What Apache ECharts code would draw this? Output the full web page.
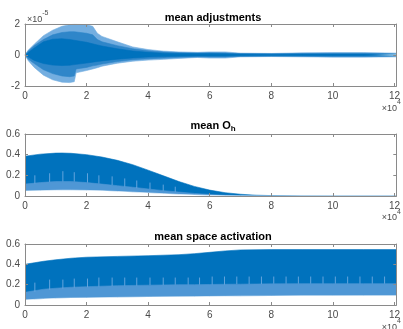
<!DOCTYPE html>
<html>
<head>
<meta charset="utf-8">
<script src="https://cdn.jsdelivr.net/npm/echarts@6/dist/echarts.min.js"></script>
<style>
html,body{margin:0;padding:0;background:#fff;}
#c{width:403px;height:329px;}
</style>
</head>
<body>
<div id="c"></div>
<script>
// ---- Data ----
// Panel 1: mean adjustments (values in units of 1e-5)
var adjX      = [0, 1000, 3000, 6000, 9000, 12000, 14500, 16000, 16600, 20000, 22000, 23500, 25000, 30000, 35000, 40000, 45000, 50000, 56000, 60000, 65000, 70000, 80000, 90000, 100000, 110000, 120600];
var adjOuterHi= [0, 0.3, 0.7, 1.25, 1.6, 1.85, 1.95, 2.0, 2.0, 1.95, 1.85, 1.4, 1.2, 0.85, 0.52, 0.35, 0.25, 0.2, 0.17, 0.2, 0.2, 0.12, 0.1, 0.14, 0.16, 0.16, 0.12];
var adjOuterLo= [0, -0.35, -0.8, -1.3, -1.6, -1.75, -1.78, -1.72, -1.15, -1.0, -0.9, -0.82, -0.72, -0.53, -0.4, -0.33, -0.28, -0.22, -0.16, -0.2, -0.2, -0.12, -0.1, -0.12, -0.14, -0.14, -0.12];
var adjMidHi  = [0, 0.25, 0.6, 1.0, 1.3, 1.45, 1.5, 1.5, 1.48, 1.4, 1.3, 1.0, 0.85, 0.6, 0.4, 0.27, 0.2, 0.15, 0.13, 0.14, 0.13, 0.09, 0.08, 0.09, 0.1, 0.1, 0.08];
var adjMidLo  = [0, -0.25, -0.55, -0.95, -1.2, -1.35, -1.4, -1.35, -0.9, -0.8, -0.7, -0.65, -0.58, -0.42, -0.3, -0.24, -0.2, -0.15, -0.12, -0.13, -0.13, -0.09, -0.08, -0.08, -0.09, -0.09, -0.08];
var adjCoreHi = [0, 0.15, 0.45, 0.85, 1.02, 1.05, 1.0, 0.95, 0.93, 0.82, 0.72, 0.65, 0.58, 0.4, 0.26, 0.17, 0.12, 0.1, 0.09, 0.09, 0.08, 0.06, 0.05, 0.06, 0.06, 0.06, 0.05];
var adjCoreLo = [0, -0.12, -0.35, -0.55, -0.65, -0.68, -0.66, -0.62, -0.6, -0.52, -0.46, -0.42, -0.38, -0.27, -0.19, -0.13, -0.1, -0.08, -0.07, -0.07, -0.07, -0.05, -0.04, -0.05, -0.05, -0.05, -0.05];

// Panel 2: mean O_h
var ohX     = [0, 5000, 10000, 12000, 15000, 20000, 25000, 30000, 35000, 40000, 45000, 50000, 55000, 60000, 65000, 70000, 75000, 80000, 90000, 100000, 120600];
var ohUpper = [0.385, 0.405, 0.415, 0.416, 0.413, 0.40, 0.377, 0.345, 0.303, 0.25, 0.195, 0.14, 0.093, 0.057, 0.032, 0.017, 0.008, 0.004, 0.001, 0, 0];
var ohMid   = [0.115, 0.13, 0.14, 0.14, 0.14, 0.13, 0.115, 0.1, 0.085, 0.068, 0.052, 0.038, 0.025, 0.015, 0.008, 0.004, 0.002, 0.001, 0, 0, 0];
var ohLower = [0.048, 0.052, 0.055, 0.056, 0.056, 0.054, 0.05, 0.044, 0.037, 0.03, 0.022, 0.015, 0.01, 0.006, 0.003, 0.001, 0, 0, 0, 0, 0];
var ohSpikeX  = [3200, 8000, 12300, 16000, 20300, 24000, 28300, 32400, 36300, 40600, 44900, 48800];
var ohSpikeLo = [0.12, 0.135, 0.14, 0.14, 0.13, 0.12, 0.105, 0.09, 0.075, 0.065, 0.05, 0.04];
var ohSpikeHi = [0.2, 0.22, 0.24, 0.23, 0.22, 0.2, 0.19, 0.17, 0.15, 0.13, 0.11, 0.09];

// Panel 3: mean space activation
var saX     = [0, 3000, 6000, 10000, 15000, 20000, 30000, 40000, 50000, 55000, 60000, 65000, 70000, 80000, 90000, 100000, 110000, 120600];
var saUpper = [0.40, 0.415, 0.43, 0.445, 0.46, 0.47, 0.478, 0.485, 0.495, 0.505, 0.518, 0.532, 0.542, 0.545, 0.545, 0.545, 0.545, 0.545];
var saMid   = [0.125, 0.14, 0.155, 0.165, 0.175, 0.18, 0.19, 0.195, 0.2, 0.2, 0.202, 0.204, 0.205, 0.208, 0.21, 0.21, 0.21, 0.21];
var saLower = [0.05, 0.055, 0.06, 0.065, 0.068, 0.07, 0.075, 0.078, 0.08, 0.082, 0.084, 0.085, 0.087, 0.088, 0.09, 0.09, 0.091, 0.092];
var saSpikeX  = [3200, 8000, 12300, 16000, 20300, 24000, 28300, 32400, 36300, 40600, 44900, 48800, 53000, 56700, 60800, 64800, 68800, 72800, 76800, 80800, 84800, 88800, 92800, 96800, 100800, 104800, 108800, 112800, 116800];
var saSpikeLo = [0.13, 0.15, 0.16, 0.17, 0.175, 0.18, 0.185, 0.19, 0.19, 0.195, 0.195, 0.2, 0.2, 0.2, 0.2, 0.2, 0.205, 0.205, 0.205, 0.21, 0.21, 0.21, 0.21, 0.21, 0.21, 0.21, 0.21, 0.21, 0.21];
var saSpikeHi = [0.22, 0.25, 0.25, 0.26, 0.26, 0.27, 0.27, 0.27, 0.27, 0.27, 0.27, 0.27, 0.27, 0.27, 0.28, 0.28, 0.28, 0.28, 0.28, 0.28, 0.28, 0.28, 0.28, 0.28, 0.28, 0.28, 0.28, 0.28, 0.28];

// ---- Styling ----
var DARK = '#0072BD', MID = '#2f86c9', LIGHT = '#74aee0', BAND = '#4f97d5', SPIKE = 'rgba(110,170,224,0.9)';
var AXC = '#8a8a8a', TXT = '#4a4a4a', FONT = 'Liberation Sans, Arial, sans-serif';
var XMAX = 120600;

var grids = [
  {left: 25, right: 2, top: 24, height: 62},
  {left: 25, right: 2, top: 134, height: 62},
  {left: 25, right: 2, top: 244, height: 61}
];

function pairs(xs, ys) { return xs.map(function (x, i) { return [x, ys[i]]; }); }

var xAxes = [], yAxes = [];
var yCfg = [{min: -2, max: 2, interval: 2}, {min: 0, max: 0.6, interval: 0.2}, {min: 0, max: 0.6, interval: 0.2}];
grids.forEach(function (g, i) {
  var base = {
    type: 'value', gridIndex: i, min: 0, max: XMAX, interval: 20000, z: 10,
    axisLine: {show: true, onZero: false, lineStyle: {color: AXC, width: 1}},
    axisTick: {show: true, inside: true, length: 3, lineStyle: {color: AXC}},
    splitLine: {show: false}
  };
  xAxes.push(Object.assign({}, base, {
    position: 'bottom',
    axisLabel: {show: true, color: TXT, fontSize: 10, fontFamily: FONT, margin: 5, showMaxLabel: false,
      formatter: function (v) { return (v % 20000 === 0) ? String(v / 10000) : ''; }}
  }));
  xAxes.push(Object.assign({}, base, {position: 'top', axisLabel: {show: false}}));
  var yb = {
    type: 'value', gridIndex: i, min: yCfg[i].min, max: yCfg[i].max, interval: yCfg[i].interval, z: 10,
    axisLine: {show: true, onZero: false, lineStyle: {color: AXC, width: 1}},
    axisTick: {show: true, inside: true, length: 3, lineStyle: {color: AXC}},
    splitLine: {show: false}
  };
  yAxes.push(Object.assign({}, yb, {
    position: 'left',
    axisLabel: {show: true, color: TXT, fontSize: 10, fontFamily: FONT, margin: 5,
      formatter: function (v) { return String(Math.round(v * 10) / 10); }}
  }));
  yAxes.push(Object.assign({}, yb, {position: 'right', axisLabel: {show: false}}));
});

// area filled from the curve down/up to zero
function area(gi, xs, ys, color) {
  return {
    type: 'line', xAxisIndex: gi * 2, yAxisIndex: gi * 2, data: pairs(xs, ys),
    symbol: 'none', silent: true, smooth: false,
    lineStyle: {width: 0.6, color: color},
    areaStyle: {color: color, opacity: 1, origin: 0}
  };
}
// vertical light streaks: separate segments split by empty points
function spikes(gi, xs, lo, hi) {
  var d = [];
  xs.forEach(function (x, i) { d.push([x, lo[i]]); d.push([x, hi[i]]); d.push([x, '-']); });
  return {
    type: 'line', xAxisIndex: gi * 2, yAxisIndex: gi * 2, data: d,
    symbol: 'none', silent: true, connectNulls: false,
    lineStyle: {width: 1, color: SPIKE}
  };
}

var series = [
  area(0, adjX, adjOuterHi, LIGHT), area(0, adjX, adjOuterLo, LIGHT),
  area(0, adjX, adjMidHi, MID), area(0, adjX, adjMidLo, MID),
  area(0, adjX, adjCoreHi, DARK), area(0, adjX, adjCoreLo, DARK),

  area(1, ohX, ohUpper, DARK),
  area(1, ohX, ohMid, BAND),
  area(1, ohX, ohLower, '#ffffff'),
  spikes(1, ohSpikeX, ohSpikeLo, ohSpikeHi),

  area(2, saX, saUpper, DARK),
  area(2, saX, saMid, BAND),
  area(2, saX, saLower, '#ffffff'),
  spikes(2, saSpikeX, saSpikeLo, saSpikeHi)
];

var titleStyle = {fontSize: 11, fontWeight: 'bold', fill: '#000', fontFamily: FONT};
function expText(x, y, base, exp, align) {
  return {
    type: 'text', x: x, y: y, z: 100, silent: true,
    style: {
      text: '{a|' + base + '}{b|' + exp + '}', align: align || 'left', verticalAlign: 'middle',
      rich: {
        a: {fontSize: 9, fill: TXT, fontFamily: FONT, lineHeight: 14, verticalAlign: 'bottom'},
        b: {fontSize: 7, fill: TXT, fontFamily: FONT, lineHeight: 14, verticalAlign: 'top'}
      }
    }
  };
}

var graphics = [
  {type: 'text', x: 213, y: 17.5, z: 100, silent: true, style: Object.assign({text: 'mean adjustments', align: 'center', verticalAlign: 'middle'}, titleStyle)},
  {type: 'text', x: 213, y: 126, z: 100, silent: true, style: {
    text: '{a|mean O}{b|h}', align: 'center', verticalAlign: 'middle',
    rich: {a: {fontSize: 11, fontWeight: 'bold', fill: '#000', fontFamily: FONT, lineHeight: 14, verticalAlign: 'middle'},
           b: {fontSize: 8, fontWeight: 'bold', fill: '#000', fontFamily: FONT, lineHeight: 14, verticalAlign: 'bottom'}}}},
  {type: 'text', x: 213, y: 236.5, z: 100, silent: true, style: Object.assign({text: 'mean space activation', align: 'center', verticalAlign: 'middle'}, titleStyle)},
  expText(27, 17, '×10', '-5', 'left'),
  expText(401, 106, '×10', '4', 'right'),
  expText(401, 215.5, '×10', '4', 'right'),
  expText(401, 325, '×10', '4', 'right')
];

var chart = echarts.init(document.getElementById('c'), null, {renderer: 'canvas'});
chart.setOption({
  animation: false,
  backgroundColor: '#ffffff',
  grid: grids,
  xAxis: xAxes,
  yAxis: yAxes,
  series: series,
  graphic: graphics
});
</script>
</body>
</html>
